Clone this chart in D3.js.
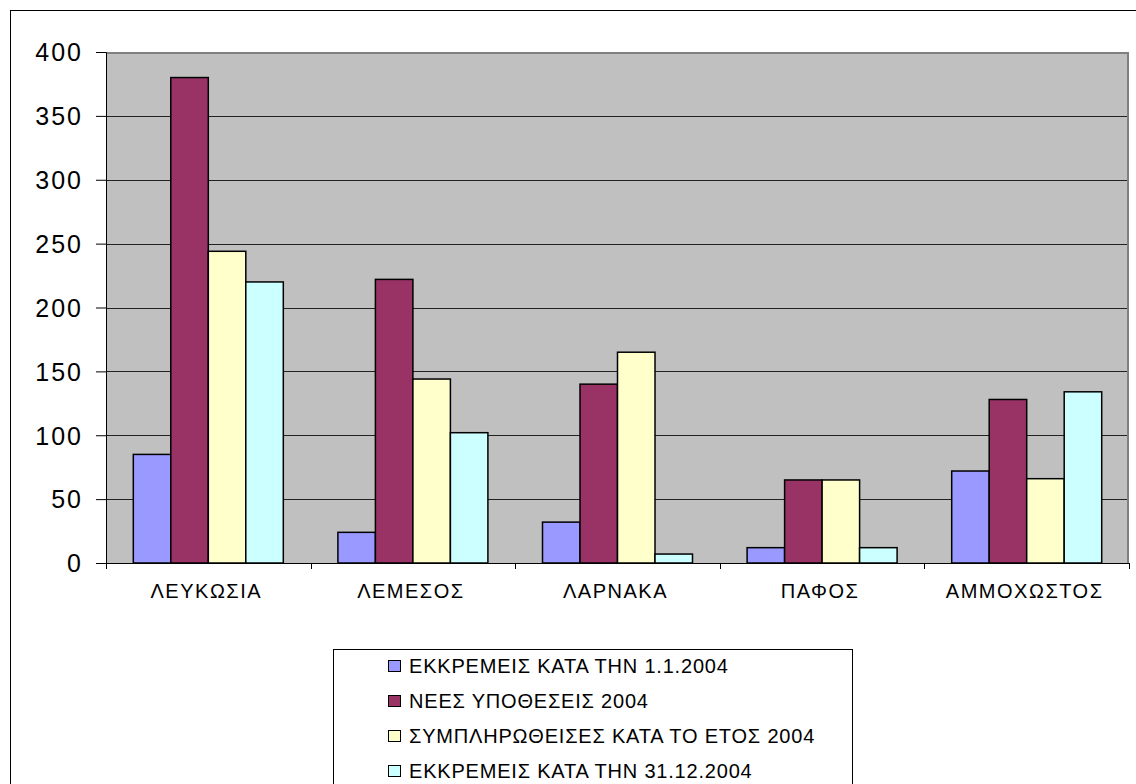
<!DOCTYPE html>
<html>
<head>
<meta charset="utf-8">
<script src="https://cdn.jsdelivr.net/npm/d3@7"></script>
<style>
  body { margin: 0; background: #fff; }
  text { font-family: "Liberation Sans", Arial, sans-serif; fill: #000; }
</style>
</head>
<body>
<div id="chart"></div>
<script>
// κατηγορίες (επαρχίες)
var categories = ["ΛΕΥΚΩΣΙΑ", "ΛΕΜΕΣΟΣ", "ΛΑΡΝΑΚΑ", "ΠΑΦΟΣ", "ΑΜΜΟΧΩΣΤΟΣ"];
var seriesNames = [
  "ΕΚΚΡΕΜΕΙΣ ΚΑΤΑ ΤΗΝ 1.1.2004",
  "ΝΕΕΣ ΥΠΟΘΕΣΕΙΣ 2004",
  "ΣΥΜΠΛΗΡΩΘΕΙΣΕΣ ΚΑΤΑ ΤΟ ΕΤΟΣ 2004",
  "ΕΚΚΡΕΜΕΙΣ ΚΑΤΑ ΤΗΝ 31.12.2004"
];
var pending2004Start = [85, 24, 32, 12, 72];
var newCases2004 = [380, 222, 140, 65, 128];
var completed2004 = [244, 144, 165, 65, 66];
var pending2004End = [220, 102, 7, 12, 134];
var yTicks = [0, 50, 100, 150, 200, 250, 300, 350, 400];
var colors = ["#9999ff", "#993366", "#ffffcc", "#ccffff"];

var values = [pending2004Start, newCases2004, completed2004, pending2004End];

var width = 1136, height = 784;
var plot = { left: 106, top: 52, right: 1129, bottom: 563 };

var svg = d3.select("#chart").append("svg")
  .attr("width", width).attr("height", height);

//外框
svg.append("rect")
  .attr("x", 10.5).attr("y", 10.5)
  .attr("width", 1200).attr("height", 900)
  .attr("fill", "#fff").attr("stroke", "#000").attr("stroke-width", 1);

var y = d3.scaleLinear().domain([0, 400]).range([plot.bottom, plot.top]);
var x0 = d3.scaleBand().domain(categories).range([plot.left, plot.right]);
var x1 = d3.scaleBand().domain(d3.range(seriesNames.length))
  .range([0, x0.bandwidth()]).paddingOuter(0.728);

// plot area
svg.append("rect")
  .attr("x", plot.left).attr("y", plot.top)
  .attr("width", plot.right - plot.left).attr("height", plot.bottom - plot.top)
  .attr("fill", "#c0c0c0");

// grid
svg.append("g").selectAll("line")
  .data(yTicks.filter(d => d > 0 && d < 400))
  .enter().append("line")
  .attr("x1", plot.left).attr("x2", plot.right)
  .attr("y1", d => Math.round(y(d)) + 0.5).attr("y2", d => Math.round(y(d)) + 0.5)
  .attr("stroke", "#222").attr("stroke-width", 1);

// plot border top/right
svg.append("path")
  .attr("d", "M" + plot.left + "," + (plot.top + 1) + "H" + (plot.right - 1) + "V" + plot.bottom)
  .attr("fill", "none").attr("stroke", "#808080").attr("stroke-width", 2);

// bars
var groups = svg.append("g").selectAll("g")
  .data(categories).enter().append("g")
  .attr("transform", d => "translate(" + x0(d) + ",0)");

groups.selectAll("rect")
  .data((d, ci) => values.map((s, si) => ({ si: si, v: s[ci] })))
  .enter().append("rect")
  .attr("x", d => x1(d.si))
  .attr("y", d => y(d.v))
  .attr("width", x1.bandwidth())
  .attr("height", d => y(0) - y(d.v))
  .attr("fill", d => colors[d.si])
  .attr("stroke", "#000").attr("stroke-width", 1.5);

// y axis
var yAxis = d3.axisLeft(y).tickValues(yTicks).tickSize(10).tickPadding(13);
var gy = svg.append("g").attr("transform", "translate(" + plot.left + ",0)").call(yAxis);
gy.select(".domain").attr("stroke", "#000");
gy.selectAll(".tick line").attr("stroke", "#000");
gy.selectAll(".tick text")
  .style("font-size", "25px")
  .style("letter-spacing", "2px")
  .style("font-family", "'Liberation Sans', Arial, sans-serif")
  .attr("dy", "0.35em");

// x axis
var xAxis = d3.axisBottom(x0).tickSize(0).tickPadding(21);
var gx = svg.append("g").attr("transform", "translate(0," + plot.bottom + ")").call(xAxis);
gx.select(".domain").attr("stroke", "#000").attr("d", "M" + plot.left + ",0.5H" + plot.right);
gx.selectAll(".tick text")
  .style("font-size", "20px")
  .style("font-family", "'Liberation Sans', Arial, sans-serif")
  .style("letter-spacing", "1.5px")
  .attr("dx", "-2px");
// category separators
gx.append("g").selectAll("line")
  .data(categories.map(c => x0(c)).concat([plot.right]))
  .enter().append("line")
  .attr("x1", d => Math.round(d) + 0.5).attr("x2", d => Math.round(d) + 0.5)
  .attr("y1", 0).attr("y2", 6)
  .attr("stroke", "#000");

// legend
var legend = svg.append("g");
legend.append("rect")
  .attr("x", 333.5).attr("y", 649.5)
  .attr("width", 519).attr("height", 200)
  .attr("fill", "#fff").attr("stroke", "#000");

var items = legend.selectAll("g.item")
  .data(seriesNames).enter().append("g")
  .attr("class", "item")
  .attr("transform", (d, i) => "translate(388," + (666 + i * 35) + ")");
items.append("rect")
  .attr("x", 0.5).attr("y", -5.5).attr("width", 12).attr("height", 11)
  .attr("fill", (d, i) => colors[i]).attr("stroke", "#000");
items.append("text")
  .attr("x", 21).attr("dy", "0.35em")
  .style("font-size", "20px")
  .style("letter-spacing", "0.8px")
  .text(d => d);
</script>
</body>
</html>
